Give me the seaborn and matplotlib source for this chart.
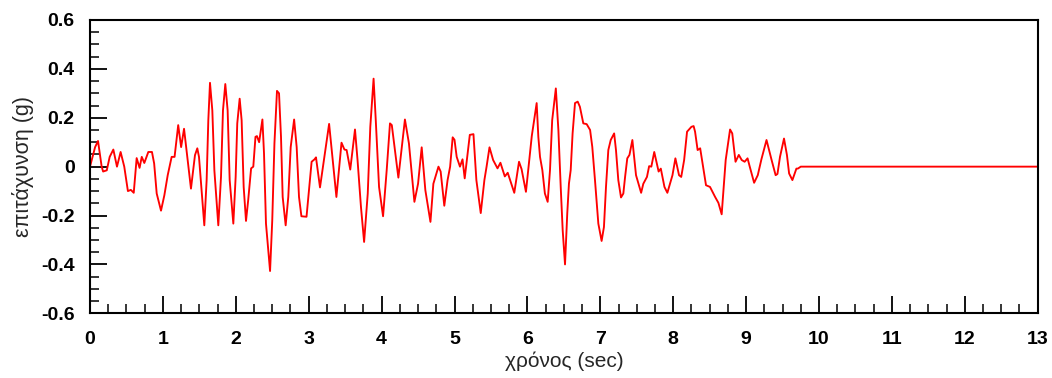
import matplotlib
matplotlib.use("Agg")
import matplotlib.pyplot as plt
import seaborn as sns
import pandas as pd
from matplotlib.ticker import MultipleLocator, FixedLocator

# time (s) and acceleration (g), row by row
time_s = [
    0, 0.07, 0.11, 0.16, 0.18, 0.23, 0.27, 0.32, 0.37, 0.42,
    0.47, 0.52, 0.56, 0.60, 0.64, 0.68, 0.71, 0.745, 0.80, 0.85,
    0.88, 0.915, 0.974, 1.02, 1.066, 1.12, 1.16, 1.21, 1.25, 1.29,
    1.385, 1.44, 1.472, 1.495, 1.523, 1.568, 1.60, 1.623, 1.646, 1.678,
    1.706, 1.76, 1.797, 1.824, 1.856, 1.888, 1.916, 1.966, 1.998, 2.02,
    2.053, 2.08, 2.108, 2.14, 2.17, 2.21, 2.24, 2.27, 2.29, 2.32,
    2.365, 2.387, 2.414, 2.47, 2.50, 2.53, 2.565, 2.593, 2.62, 2.643,
    2.684, 2.72, 2.753, 2.80, 2.835, 2.867, 2.90, 2.97, 3.04, 3.08,
    3.10, 3.155, 3.28, 3.38, 3.45, 3.49, 3.52, 3.57, 3.635, 3.67,
    3.717, 3.76, 3.81, 3.845, 3.89, 3.92, 3.965, 4.02, 4.07, 4.115,
    4.14, 4.23, 4.32, 4.375, 4.45, 4.50, 4.55, 4.60, 4.67, 4.71,
    4.78, 4.81, 4.86, 4.905, 4.94, 4.975, 5.0, 5.03, 5.075, 5.11,
    5.14, 5.21, 5.26, 5.30, 5.36, 5.41, 5.44, 5.48, 5.53, 5.59,
    5.63, 5.69, 5.73, 5.82, 5.885, 5.92, 5.98, 6.06, 6.10, 6.127,
    6.15, 6.173, 6.205, 6.24, 6.278, 6.31, 6.34, 6.39, 6.425, 6.457,
    6.484, 6.516, 6.547, 6.57, 6.594, 6.62, 6.653, 6.69, 6.72, 6.767,
    6.813, 6.86, 6.89, 6.927, 6.973, 7.018, 7.05, 7.078, 7.11, 7.143,
    7.19, 7.215, 7.247, 7.284, 7.316, 7.34, 7.37, 7.40, 7.44, 7.49,
    7.56, 7.59, 7.64, 7.67, 7.70, 7.74, 7.80, 7.83, 7.88, 7.92,
    7.99, 8.03, 8.08, 8.11, 8.15, 8.19, 8.25, 8.28, 8.30, 8.335,
    8.37, 8.45, 8.505, 8.575, 8.62, 8.665, 8.72, 8.78, 8.81, 8.855,
    8.90, 8.94, 8.98, 9.02, 9.05, 9.11, 9.16, 9.21, 9.28, 9.35,
    9.405, 9.43, 9.465, 9.52, 9.56, 9.59, 9.635, 9.69, 9.71, 9.75,
    13.0,
]

accel_g = [
    0, 0.08, 0.105, 0, -0.02, -0.015, 0.04, 0.07, 0, 0.06,
    0, -0.10, -0.095, -0.107, 0.035, -0.005, 0.04, 0.015, 0.06, 0.06,
    0.013, -0.11, -0.18, -0.117, -0.035, 0.04, 0.04, 0.17, 0.08, 0.155,
    -0.09, 0.047, 0.075, 0.04, -0.069, -0.24, -0.055, 0.19, 0.343, 0.23,
    -0.015, -0.24, -0.042, 0.23, 0.338, 0.23, -0.055, -0.233, -0.042, 0.177,
    0.278, 0.19, -0.083, -0.222, -0.137, -0.007, 0.0, 0.122, 0.125, 0.10,
    0.193, 0.054, -0.233, -0.427, -0.22, 0.095, 0.31, 0.30, 0.122, -0.124,
    -0.24, -0.124, 0.08, 0.193, 0.08, -0.124, -0.203, -0.205, 0.02, 0.03,
    0.038, -0.085, 0.175, -0.124, 0.098, 0.07, 0.068, -0.012, 0.152, 0.027,
    -0.165, -0.308, -0.11, 0.163, 0.36, 0.19, -0.083, -0.203, -0.014, 0.177,
    0.17, -0.045, 0.193, 0.095, -0.144, -0.07, 0.079, -0.096, -0.226, -0.07,
    0, -0.02, -0.16, -0.055, 0, 0.12, 0.11, 0.04, 0, 0.03,
    -0.048, 0.13, 0.133, -0.055, -0.19, -0.055, 0, 0.079, 0.027, -0.007,
    0.016, -0.04, -0.025, -0.107, 0.02, -0.01, -0.103, 0.125, 0.204, 0.26,
    0.122, 0.04, -0.014, -0.11, -0.144, -0.014, 0.19, 0.32, 0.15, -0.083,
    -0.26, -0.40, -0.19, -0.069, -0.014, 0.136, 0.26, 0.266, 0.245, 0.177,
    0.174, 0.15, 0.081, -0.055, -0.233, -0.304, -0.247, -0.083, 0.068, 0.109,
    0.136, 0.068, -0.055, -0.126, -0.11, -0.042, 0.034, 0.048, 0.109, -0.035,
    -0.107, -0.07, -0.042, 0.002, 0, 0.06, -0.02, -0.008, -0.083, -0.107,
    -0.035, 0.034, -0.035, -0.042, 0.027, 0.143, 0.163, 0.166, 0.143, 0.068,
    0.075, -0.076, -0.083, -0.124, -0.148, -0.195, 0.027, 0.152, 0.136, 0.02,
    0.048, 0.027, 0.02, 0.034, 0, -0.066, -0.035, 0.03, 0.109, 0.027,
    -0.035, -0.03, 0.04, 0.115, 0.048, -0.028, -0.055, -0.008, -0.008, 0,
    0,
]

x_ticks = list(range(0, 14))
y_ticks = [-0.6, -0.4, -0.2, 0, 0.2, 0.4, 0.6]
y_tick_labels = ["-0.6", "-0.4", "-0.2", "0", "0.2", "0.4", "0.6"]
x_label = "χρόνος (sec)"
y_label = "επιτάχυνση (g)"

sns.set_style("ticks")
plt.rcParams["font.family"] = ["Liberation Sans", "DejaVu Sans"]

df = pd.DataFrame({"t": time_s, "a": accel_g})

fig = plt.figure(figsize=(10.52, 3.78), dpi=100)
ax = fig.add_axes([90 / 1052, 1 - 313.3 / 378, 947.7 / 1052, 293.3 / 378])
sns.lineplot(data=df, x="t", y="a", ax=ax, color="#ff0000", linewidth=1.35,
             estimator=None, sort=False)

ax.set_xlim(0, 13)
ax.set_ylim(-0.6, 0.6)
ax.xaxis.set_major_locator(FixedLocator(x_ticks))
ax.xaxis.set_minor_locator(MultipleLocator(0.25))
ax.yaxis.set_major_locator(FixedLocator(y_ticks))
ax.yaxis.set_minor_locator(MultipleLocator(0.05))
ax.set_xticklabels([str(v) for v in x_ticks], fontweight="bold", fontsize=14)
ax.set_yticklabels(y_tick_labels, fontweight="bold", fontsize=14)

ax.tick_params(axis="both", which="major", direction="in", length=12.5, width=1.3,
               colors="black", top=False, right=False)
ax.tick_params(axis="both", which="minor", direction="in", length=6.5, width=1.3,
               top=False, right=False)
ax.tick_params(axis="x", which="major", pad=13)
ax.tick_params(axis="y", which="major", pad=11)
for side in ["left", "right", "top", "bottom"]:
    ax.spines[side].set_visible(True)
    ax.spines[side].set_linewidth(1.5)
    ax.spines[side].set_color("black")

ax.set_xlabel(x_label, fontsize=15)
ax.set_ylabel(y_label, fontsize=15.5)
ax.xaxis.set_label_coords(0.5, -0.162)
ax.yaxis.set_label_coords(-0.0712, 0.5)
ax.xaxis.label.set_verticalalignment("center")
ax.yaxis.label.set_verticalalignment("center")
ax.yaxis.label.set_horizontalalignment("center")

fig.savefig("out.png", dpi=100)
